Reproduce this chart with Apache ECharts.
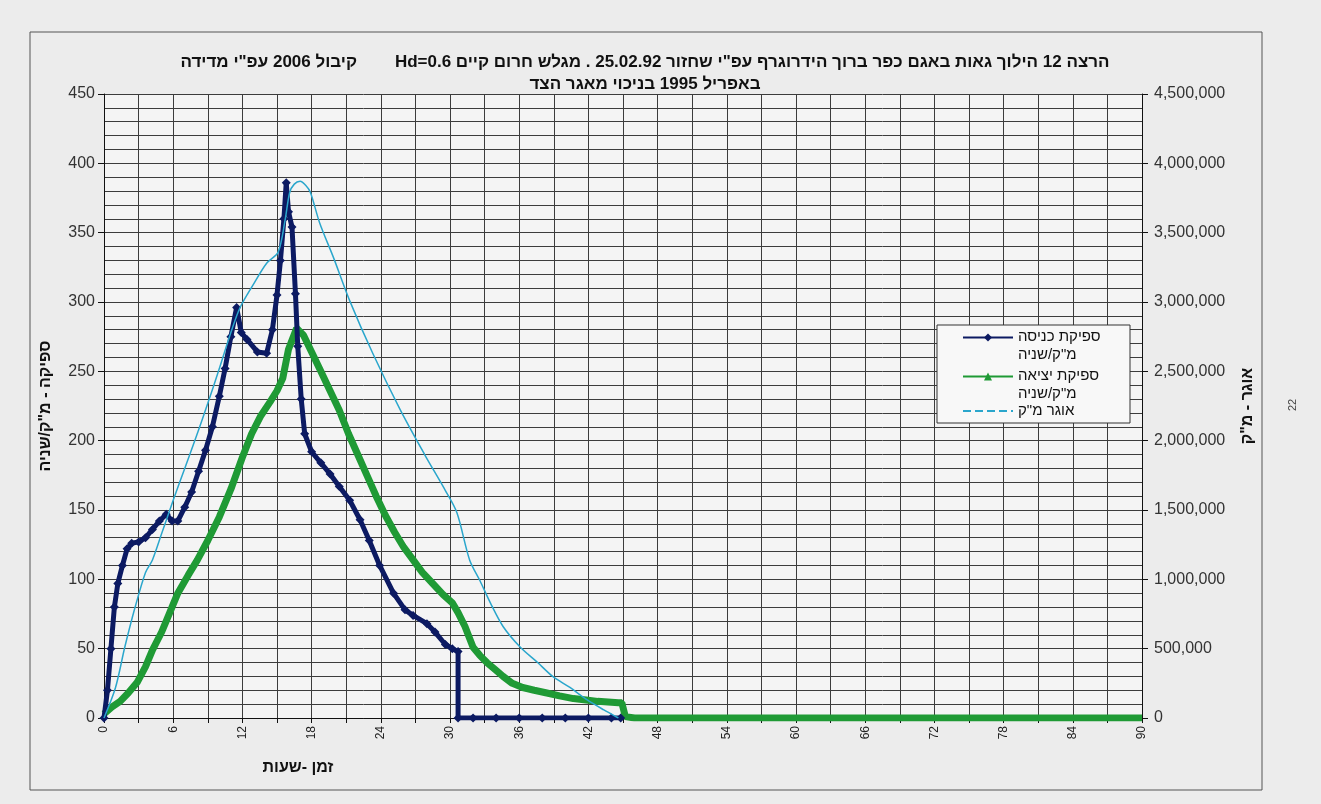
<!DOCTYPE html>
<html>
<head>
<meta charset="utf-8">
<script src="https://cdn.jsdelivr.net/npm/echarts@6/dist/echarts.min.js"></script>
<style>
  html, body { margin: 0; background: #ececec; }
  #chart { width: 1321px; height: 804px; }
</style>
</head>
<body>
<div id="chart" dir="rtl"></div>
<script>
// זמן בשעות / ספיקה מ"ק/שניה
const inflowT = [0, 0.3, 0.6, 0.9, 1.2, 1.6, 2.0, 2.4, 3.0, 3.6, 4.2, 4.8, 5.4, 5.9, 6.4,
  7.0, 7.6, 8.2, 8.8, 9.4, 10.0, 10.5, 11.0, 11.5, 11.9, 12.4, 13.3, 14.1, 14.6, 15.0,
  15.3, 15.6, 15.8, 16.0, 16.3, 16.6, 16.8, 17.1, 17.4, 18.0, 18.8, 19.6, 20.4, 21.3,
  22.2, 23.0, 23.9, 25.1, 26.1, 26.8, 28.0, 28.7, 29.6, 30.2, 30.7, 30.7, 32, 34, 36,
  38, 40, 42, 44, 44.8]
const inflowQ = [0, 20, 50, 80, 97, 110, 122, 126, 127, 130, 136, 142, 147, 142, 142,
  152, 163, 178, 193, 210, 232, 252, 275, 296, 278, 273, 264, 263, 280, 305,
  330, 360, 386, 365, 354, 306, 268, 230, 205, 192, 184, 176, 167, 157,
  143, 128, 110, 90, 78, 74, 68, 62, 53, 50, 48, 0, 0, 0, 0,
  0, 0, 0, 0, 0]

const outflowT = [0, 0.7, 1.4, 2.1, 2.9, 3.6, 4.2, 5.0, 5.7, 6.4, 7.3, 8.1, 9.0, 10.0,
  11.0, 12.0, 12.8, 13.6, 14.4, 15.0, 15.5, 16.0, 16.7, 17.3, 18.0, 18.8, 19.6, 20.4,
  21.2, 22.0, 22.8, 23.6, 24.4, 25.2, 26.0, 26.8, 27.6, 28.5, 29.4, 30.2, 30.7, 31.3,
  32.0, 32.6, 33.2, 33.9, 34.6, 35.4, 36.3, 37.3, 38.4, 39.5, 40.7, 41.8, 42.8, 44.6,
  44.9, 45.2, 46, 90]
const outflowQ = [3, 8, 12, 18, 26, 37, 49, 62, 76, 90, 103, 114, 128, 145,
  165, 188, 205, 218, 228, 236, 245, 266, 281, 276, 264, 250, 236, 222,
  205, 190, 175, 160, 146, 134, 123, 114, 105, 97, 89, 83, 76, 66,
  51, 45, 40, 35, 30, 25, 22, 20, 18, 16, 14, 13, 12, 11,
  11, 1, 0, 0]

// אוגר מ"ק
const storageT = [0, 1.0, 1.8, 2.7, 3.6, 4.2, 5.0, 6.0, 7.0, 8.0, 9.0, 10.0, 11.0, 11.8,
  12.9, 14.1, 15.1, 15.7, 16.1, 16.5, 17.0, 17.5, 17.9, 18.7, 19.9, 21.3, 23.3, 25.7,
  27.8, 29.6, 30.6, 31.7, 32.6, 33.5, 34.6, 36.1, 37.6, 38.9, 40.4, 41.9, 43.3, 44.6]
const storageV = [0, 220000, 510000, 800000, 1050000, 1140000, 1330000, 1570000, 1800000,
  2030000, 2270000, 2520000, 2780000, 2960000, 3120000, 3280000, 3360000, 3590000,
  3790000, 3850000, 3870000, 3840000, 3790000, 3570000, 3320000, 3010000, 2630000,
  2220000, 1900000, 1640000, 1480000, 1140000, 990000, 830000, 660000, 510000, 400000,
  300000, 220000, 130000, 60000, 0]

const names = ['ספיקת כניסה', 'ספיקת יציאה', 'אוגר מ"ק']
const unitLine = 'מ"ק/שניה'
const titleLines = [
  'הרצה 12 הילוך גאות באגם כפר ברוך הידרוגרף עפ"י שחזור 25.02.92 . מגלש חרום קיים Hd=0.6        קיבול 2006 עפ"י מדידה',
  'באפריל 1995 בניכוי מאגר הצד'
]

const FONT = 'Liberation Sans'
const NAVY = '#0c1a62'
const GREEN = '#1f9a35'
const CYAN = '#2aa6cc'
const GRID = '#3c3c3c'

const zip = (a, b) => a.map((v, i) => [v, b[i]])

const chart = echarts.init(document.getElementById('chart'))

chart.setOption({
  backgroundColor: '#ececec',
  animation: false,
  title: {
    text: titleLines.join('\n'),
    left: 640,
    top: 46,
    textAlign: 'center',
    textStyle: { fontFamily: FONT, fontSize: 17, fontWeight: 'bold', color: '#111', lineHeight: 22 }
  },
  graphic: [
    {
      type: 'rect', z: -1, silent: true,
      shape: { x: 30, y: 32, width: 1232, height: 758 },
      style: { fill: 'none', stroke: '#555', lineWidth: 1 }
    },
    {
      // מסגרת המקרא
      type: 'rect', z: 1, silent: true,
      shape: { x: 937, y: 325, width: 193, height: 98 },
      style: { fill: '#f8f8f8', stroke: '#333', lineWidth: 1 }
    },
    {
      type: 'text', x: 1293, y: 405, rotation: Math.PI / 2,
      style: { text: '22', fontFamily: FONT, fontSize: 11, fill: '#444', align: 'center', verticalAlign: 'middle' }
    }
  ],
  grid: {
    left: 104, right: 179, top: 94, bottom: 86,
    show: true, backgroundColor: '#f4f4f4', borderWidth: 0
  },
  legend: {
    orient: 'vertical',
    left: 962,
    top: 311,
    padding: 0,
    z: 10,
    itemWidth: 50,
    itemHeight: 10,
    itemGap: -14,
    textStyle: {
      fontFamily: FONT, fontSize: 15, color: '#111', lineHeight: 17,
      rich: {
        s: { fontSize: 15, lineHeight: 17 },
        t: { fontSize: 15, lineHeight: 17 },
        u: { fontSize: 15, lineHeight: 19 },
        s3: { fontSize: 15, lineHeight: 12 }
      }
    },
    formatter: name => name === names[2]
      ? '{s3| }\n{t|' + name + '}\n{s3| }'
      : '{s| }\n{t|' + name + '}\n{u|' + unitLine + '}',
    data: [
      { name: names[0], lineStyle: { width: 2 } },
      { name: names[1], lineStyle: { width: 2 } },
      { name: names[2], lineStyle: { width: 2, type: 'dashed' }, itemStyle: { opacity: 0 } }
    ]
  },
  xAxis: {
    type: 'value',
    min: 0,
    max: 90,
    interval: 3,
    name: 'זמן -שעות',
    nameLocation: 'middle',
    nameGap: 42,
    nameTextStyle: { fontFamily: FONT, fontSize: 16, fontWeight: 'bold', color: '#111', padding: [0, 650, 0, 0] },
    axisLine: { lineStyle: { color: '#111', width: 1 } },
    axisTick: { show: true, length: 5, lineStyle: { color: '#111' } },
    axisLabel: {
      rotate: 90,
      margin: 8,
      fontFamily: FONT, fontSize: 12, color: '#222',
      formatter: v => (v % 6 === 0 ? String(v) : '')
    },
    splitLine: { show: true, lineStyle: { color: GRID, width: 1 } }
  },
  yAxis: [
    {
      type: 'value',
      min: 0,
      max: 450,
      interval: 50,
      name: 'ספיקה - מ"ק/שניה',
      nameLocation: 'middle',
      nameGap: 50,
      nameTextStyle: { fontFamily: FONT, fontSize: 16, fontWeight: 'bold', color: '#111' },
      axisLine: { show: true, lineStyle: { color: '#111' } },
      axisTick: { show: true, length: 6, lineStyle: { color: '#111' } },
      axisLabel: { fontFamily: FONT, fontSize: 16, color: '#333', margin: 9 },
      splitLine: { show: true, lineStyle: { color: GRID, width: 1 } },
      minorTick: { show: false, splitNumber: 5 },
      minorSplitLine: { show: true, lineStyle: { color: GRID, width: 1 } }
    },
    {
      type: 'value',
      min: 0,
      max: 4500000,
      interval: 500000,
      name: 'אוגר - מ"ק',
      nameLocation: 'middle',
      nameRotate: 90,
      nameGap: 98,
      nameTextStyle: { fontFamily: FONT, fontSize: 16, fontWeight: 'bold', color: '#111' },
      axisLine: { show: true, lineStyle: { color: '#111' } },
      axisTick: { show: true, length: 6, lineStyle: { color: '#111' } },
      axisLabel: {
        fontFamily: FONT, fontSize: 16, color: '#333', margin: 12,
        formatter: v => v.toLocaleString('en-US')
      },
      splitLine: { show: false }
    }
  ],
  series: [
    {
      name: names[0],
      type: 'line',
      data: zip(inflowT, inflowQ),
      symbol: 'diamond',
      symbolSize: 9,
      showSymbol: true,
      itemStyle: { color: NAVY },
      lineStyle: { color: NAVY, width: 5 },
      z: 4
    },
    {
      name: names[1],
      type: 'line',
      data: zip(outflowT, outflowQ),
      symbol: 'triangle',
      symbolSize: 9,
      showSymbol: false,
      itemStyle: { color: GREEN },
      lineStyle: { color: GREEN, width: 7 },
      z: 3
    },
    {
      name: names[2],
      type: 'line',
      yAxisIndex: 1,
      data: zip(storageT, storageV),
      symbol: 'none',
      smooth: 0.3,
      itemStyle: { color: CYAN },
      lineStyle: { color: CYAN, width: 1.5 },
      z: 5
    }
  ]
})
</script>
</body>
</html>
